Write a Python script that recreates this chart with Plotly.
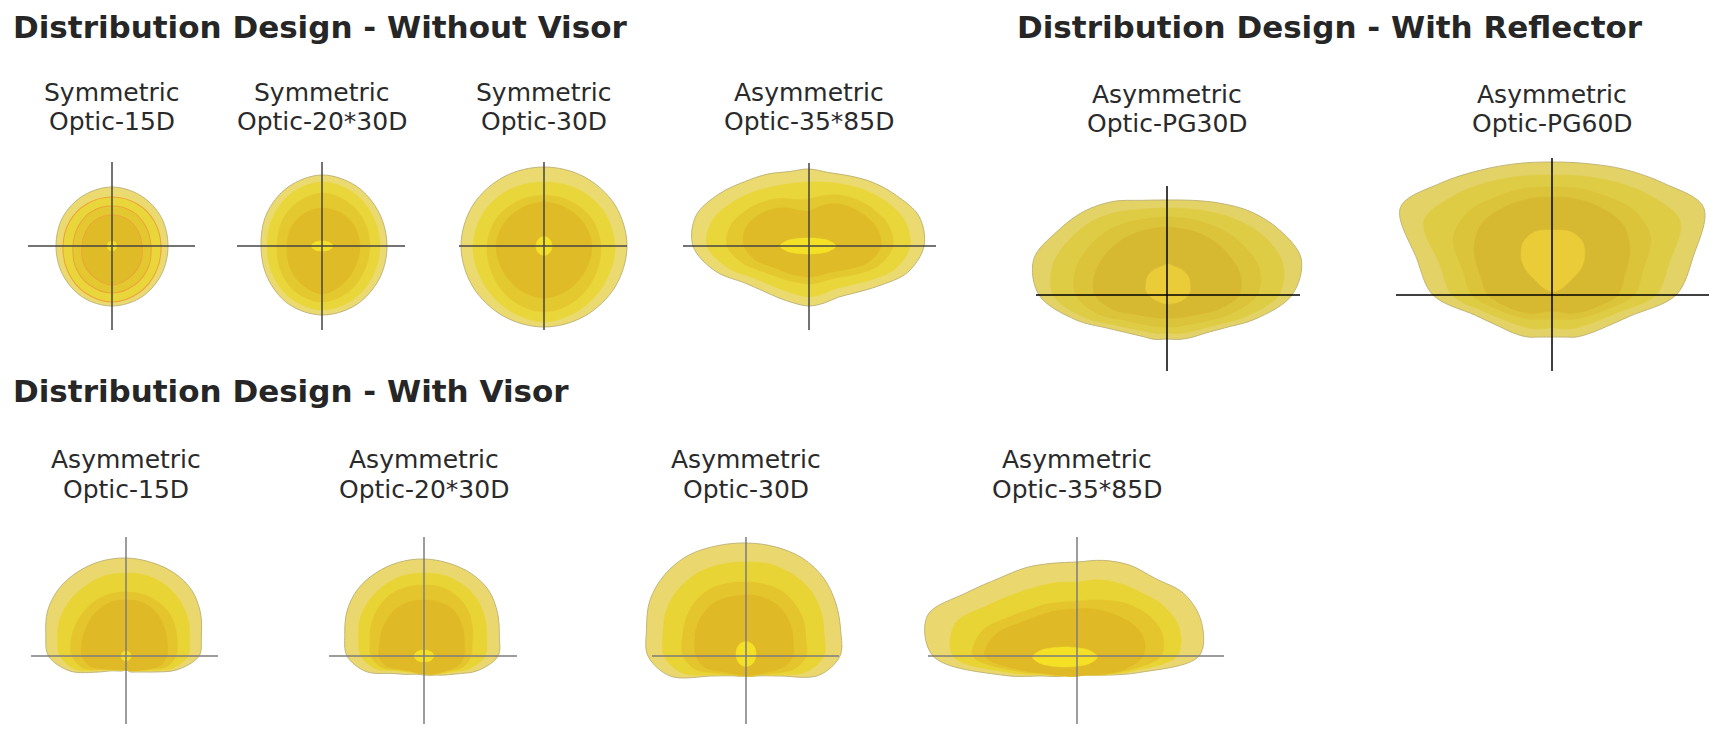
import numpy as np
import plotly.graph_objects as go

W, H = 1726, 732

# ------------------------------------------------------------------ data
SECTION_TITLES = ["Distribution Design - Without Visor",
                  "Distribution Design - With Reflector",
                  "Distribution Design - With Visor"]

PANEL_TYPES = ["Symmetric", "Symmetric", "Symmetric", "Asymmetric",
               "Asymmetric", "Asymmetric",
               "Asymmetric", "Asymmetric", "Asymmetric", "Asymmetric"]
PANEL_OPTICS = ["Optic-15D", "Optic-20*30D", "Optic-30D", "Optic-35*85D",
                "Optic-PG30D", "Optic-PG60D",
                "Optic-15D", "Optic-20*30D", "Optic-30D", "Optic-35*85D"]

# iso-intensity contours: radius from the beam axis (degrees-scale units) at
# evenly spaced angles counter-clockwise from the right; outer -> core
NV_15D = [
    [56, 57, 58, 59, 58, 57, 56, 57, 59, 60, 59, 57],
    [49, 49, 49, 49, 49, 49, 49, 51, 54, 56, 54, 51],
    [39, 39, 40, 40, 40, 39, 39, 42, 45, 47, 45, 42],
    [30, 30, 31, 31, 31, 30, 30, 33, 36, 39, 36, 33],
    [5, 5, 5, 5, 5, 5, 5, 5, 5, 5, 5, 5],
]
NV_2030D = [
    [65, 66, 69, 71, 68, 64, 61, 63, 67, 69, 68, 66],
    [58, 59, 62, 64, 61, 57, 55, 57, 61, 64, 62, 59],
    [48, 49, 51, 53, 50, 47, 45, 48, 53, 56, 53, 49],
    [38, 38, 38, 38, 37, 36, 35, 38, 43, 48, 43, 39],
    [11, 7.9, 5.6, 5, 5.6, 7.9, 11, 7.9, 5.6, 5, 5.6, 7.9],
]
NV_30D = [
    [83, 82, 80, 79, 80, 82, 83, 82, 81, 81, 81, 82],
    [71, 69, 66, 64, 66, 69, 71, 71, 73, 76, 73, 71],
    [57, 55, 52, 51, 52, 55, 57, 59, 63, 66, 63, 59],
    [48, 46, 44, 44, 44, 46, 48, 48, 50, 52, 50, 48],
    [8, 8.3, 9, 9.5, 9, 8.3, 8, 8.3, 9, 9.5, 9, 8.3],
]
NV_3585D = [
    [115, 114, 101, 90, 81, 76, 77, 77, 83, 91, 104, 117,
     116, 97, 74, 64, 60, 59, 60, 59, 59, 66, 80, 102],
    [101, 99, 89, 79, 71, 66, 64, 65, 69, 77, 88, 100,
     102, 84, 64, 55, 51, 50, 51, 50, 50, 56, 69, 89],
    [84, 82, 74, 66, 59, 52, 47, 48, 55, 63, 72, 81,
     82, 68, 52, 44, 40, 38, 38, 38, 39, 44, 56, 73],
    [72, 70, 63, 56, 49, 41, 35, 37, 44, 52, 60, 66,
     65, 55, 42, 36, 33, 31, 31, 31, 32, 36, 46, 62],
    [28, 21.1, 14.3, 10.9, 9.1, 8.3, 8, 8.3, 9.1, 10.9, 14.3, 21.1,
     28, 21.1, 14.3, 10.9, 9.1, 8.3, 8, 8.3, 9.1, 10.9, 14.3, 21.1],
]
RF_PG30D = [
    [125, 139, 130, 118, 106, 98, 95, 98, 108, 118, 127, 138,
     128, 95, 67, 54, 48, 46, 44, 46, 49, 54, 66, 92],
    [112, 120, 114, 104, 95, 89, 87, 89, 96, 105, 112, 118,
     114, 86, 60, 48, 42, 40, 38, 40, 43, 48, 59, 82],
    [90, 96, 92, 87, 82, 79, 78, 79, 83, 88, 92, 95,
     91, 72, 50, 40, 35, 33, 32, 33, 35, 40, 50, 68],
    [72, 76, 74, 72, 70, 68, 68, 68, 70, 72, 74, 75,
     72, 56, 38, 30, 26, 24, 23, 24, 26, 30, 38, 54],
    [22, 22, 21, 20, 19, 19, 20, 19, 19, 20, 21, 22,
     22, 23, 22, 21, 20, 20, 20, 20, 21, 22, 23, 23],
]
RF_PG60D = [
    [124, 146, 175, 158, 145, 136, 133, 136, 144, 158, 175, 140,
     119, 79, 62, 54, 48.5, 43.5, 42, 43.5, 48.5, 54, 63, 81],
    [104, 121, 148, 140, 130, 123, 120, 123, 130, 140, 148, 116,
     100, 68, 52, 44, 39, 35, 33, 35, 39, 44, 52, 68],
    [82, 94, 114, 118, 113, 110, 108, 110, 113, 118, 114, 92,
     80, 56, 42, 34, 28, 25, 24, 25, 28, 34, 42, 56],
    [66, 75, 90, 100, 100, 99, 98, 99, 100, 100, 90, 74,
     64, 46, 34, 26, 20, 17, 16, 17, 20, 26, 34, 46],
    [31, 33, 35, 35, 34, 32, 31, 32, 34, 35, 35, 33,
     31, 29, 27, 26, 27, 29, 31, 29, 27, 26, 27, 29],
]
WV_15D = [
    [73, 78, 86, 93, 96, 97, 98, 98, 97, 95, 90.5, 83,
     77.5, 58, 32, 21, 17.3, 15.5, 14, 16.5, 18.5, 22.6, 32, 53],
    [62, 66, 72, 77, 81, 83, 83, 83, 81, 79, 76, 71,
     66, 52, 28, 20, 16, 14.5, 14, 15, 17, 21, 29, 48],
    [50, 53, 57, 61, 63, 64, 64, 64, 63, 61, 59, 57,
     54, 45, 27, 19, 16, 14.5, 14, 15, 17, 20, 27, 42],
    [41, 43, 46, 50, 54, 56, 56, 56, 54, 51, 48, 46,
     44, 38, 26, 19, 16, 14.5, 14, 15, 17, 20, 26, 36],
    [5, 5, 5, 5, 5, 5, 5, 5, 5, 5, 5, 5],
]
WV_2030D = [
    [74, 78, 85, 92, 95, 96, 97, 97, 96, 94, 89, 82,
     77, 60, 35, 26, 21, 19, 19, 20, 22, 27, 36, 56],
    [61, 65, 71, 77, 81, 83, 83, 83, 81, 78, 74, 68,
     63, 50, 30, 23, 19, 18, 18, 19, 21, 25, 32, 48],
    [47, 50, 56, 63, 68, 71, 71, 71, 70, 66, 61, 56,
     53, 44, 28, 22, 19, 18, 18, 19, 21, 24, 30, 41],
    [40, 42, 46, 51, 55, 56, 56, 56, 55, 52, 49, 46,
     45, 39, 27, 21, 19, 18, 18, 19, 21, 23, 28, 36],
    [10, 8.3, 6.5, 6, 6.5, 8.3, 10, 8.3, 6.5, 6, 6.5, 8.3],
]
WV_30D = [
    [94, 98, 104, 110, 113, 113, 113, 114, 116, 115, 111, 103,
     98, 78, 40, 28, 23, 21, 20, 21, 23, 28, 40, 75],
    [78, 81, 87, 92, 94, 95, 94, 95, 96, 95, 92, 86,
     82, 66, 38, 27, 22, 20.5, 20, 21, 22, 27, 38, 62],
    [60, 62, 67, 71, 74, 74, 74, 75, 76, 74, 70, 66,
     63, 52, 34, 26, 22, 20.5, 20, 21, 22, 26, 34, 50],
    [47, 49, 53, 57, 60, 61, 61, 61, 62, 60, 57, 53,
     50, 43, 30, 24, 21, 20, 20, 20, 21, 24, 30, 40],
    [10, 10.6, 11.8, 12.5, 11.8, 10.6, 10, 10.6, 11.8, 12.5, 11.8, 10.6],
]
WV_3585D = [
    [122, 129, 124, 110, 105, 99, 94, 96, 102, 110, 127, 155,
     144, 75, 40, 29, 23, 21, 20, 20, 22, 27, 38, 64],
    [100, 106, 100, 90, 84, 79, 74, 76, 80, 88, 102, 126,
     124, 66, 38, 28, 23, 21, 20, 20, 22, 27, 37, 58],
    [84, 88, 82, 73, 64, 58, 55, 56, 60, 66, 78, 98,
     104, 60, 36, 28, 23, 21, 20, 20, 22, 27, 36, 54],
    [66, 69, 64, 57, 52, 49, 47, 48, 51, 56, 66, 84,
     92, 56, 35, 27, 23, 21, 20, 20, 22, 27, 35, 50],
    [32.5, 25.4, 17.6, 13.5, 11.4, 10.3, 10, 10.3, 11.4, 13.5, 17.6, 25.4,
     32.5, 25.4, 17.6, 13.5, 11.4, 10.3, 10, 10.3, 11.4, 13.5, 17.6, 25.4],
]
CONTOURS = [NV_15D, NV_2030D, NV_30D, NV_3585D, RF_PG30D, RF_PG60D,
            WV_15D, WV_2030D, WV_30D, WV_3585D]
# offset of the hot-spot (core) contour centre from the beam axis
CORE_OFFSET = [(0, 0), (0, 0), (0, 0), (-1, 0), (1, 11), (1, 34),
               (0, 0), (0, 0), (0, 2), (-12, -1)]

# ------------------------------------------------------------------ layout / style
# centre (px), crosshair arms (left, right, down, up), label line centres y (px)
LAYOUT = [
    dict(cx=112, cy=246, arms=(84, 83, 84, 84), ly=(93, 122), pal="warm", edge="#EFA53A", cross="#454545"),
    dict(cx=322, cy=246, arms=(85, 83, 84, 84), ly=(93, 122), pal="warm", edge=None, cross="#454545"),
    dict(cx=544, cy=246, arms=(85, 83, 84, 84), ly=(93, 122), pal="warm", edge=None, cross="#454545"),
    dict(cx=809, cy=246, arms=(126, 127, 84, 83), ly=(93, 122), pal="warm", edge=None, cross="#454545"),
    dict(cx=1167, cy=295, arms=(131, 133, 76, 109), ly=(95, 124), pal="refl", edge=None, cross="#000000"),
    dict(cx=1552, cy=295, arms=(156, 157, 76, 137), ly=(95, 124), pal="refl", edge=None, cross="#000000"),
    dict(cx=126, cy=656, arms=(95, 92, 68, 119), ly=(459, 489), pal="visor", edge=None, cross="#7c7c7c"),
    dict(cx=424, cy=656, arms=(95, 93, 68, 119), ly=(459, 489), pal="visor", edge=None, cross="#7c7c7c"),
    dict(cx=746, cy=656, arms=(94, 93, 68, 119), ly=(459, 489), pal="visor", edge=None, cross="#7c7c7c"),
    dict(cx=1077, cy=656, arms=(149, 147, 68, 119), ly=(459, 489), pal="visor", edge=None, cross="#7c7c7c"),
]
PALETTES = {
    "warm": ["#EADA70", "#E9D63A", "#E4C830", "#DFBB27", "#F4E126"],
    "refl": ["#E3D265", "#DFCC45", "#DBC33A", "#D7B931", "#EACB38"],
    "visor": ["#EAD86E", "#E9D435", "#E4C52D", "#E0B927", "#F4E126"],
}
TITLE_POS = [(11, 27), (1015, 27), (11, 391)]
TITLE_FONT = "DejaVu Sans"
LABEL_FONT = "DejaVu Sans"


def contour_xy(radii, offset=(0, 0)):
    r = np.asarray(radii, dtype=float)
    t = np.linspace(0, 2 * np.pi, len(r), endpoint=False)
    x = offset[0] + r * np.cos(t)
    y = offset[1] + r * np.sin(t)
    return np.append(x, x[0]), np.append(y, y[0])


fig = go.Figure()
axes_layout = {}
annotations = []

for i, (spec, conts) in enumerate(zip(LAYOUT, CONTOURS)):
    sfx = "" if i == 0 else str(i + 1)
    L, R, D, U = spec["arms"]
    cx, cy = spec["cx"], spec["cy"]
    ox, oy = contour_xy(conts[0])
    pad = 8
    x0 = max(min(ox.min(), -L) - pad, -cx)
    x1 = min(max(ox.max(), R) + pad, W - cx)
    y0 = max(min(oy.min(), -D) - pad, -(H - cy))
    y1 = min(max(oy.max(), U) + pad, cy)
    axes_layout["xaxis" + sfx] = dict(domain=[(cx + x0) / W, (cx + x1) / W], range=[x0, x1],
                                      visible=False, fixedrange=True, anchor="y" + sfx)
    axes_layout["yaxis" + sfx] = dict(domain=[1 - (cy - y0) / H, 1 - (cy - y1) / H], range=[y0, y1],
                                      visible=False, fixedrange=True, anchor="x" + sfx)
    pal = PALETTES[spec["pal"]]
    n = len(conts)
    for k, radii in enumerate(conts):
        off = CORE_OFFSET[i] if k == n - 1 else (0, 0)
        x, y = contour_xy(radii, off)
        if k == 0:
            lc, lw = "#C2B577", 1.0
        elif spec["edge"] and k < n - 1:
            lc, lw = spec["edge"], 1.1
        else:
            lc, lw = pal[k], 0.5
        fig.add_trace(go.Scatter(
            x=x, y=y, xaxis="x" + sfx, yaxis="y" + sfx, mode="lines", fill="toself",
            fillcolor=pal[k], line=dict(color=lc, width=lw, shape="spline", smoothing=1.0),
            hoverinfo="skip", showlegend=False))
    fig.add_trace(go.Scatter(x=[-L, R], y=[0, 0], xaxis="x" + sfx, yaxis="y" + sfx, mode="lines",
                             line=dict(color=spec["cross"], width=1.5), hoverinfo="skip", showlegend=False))
    fig.add_trace(go.Scatter(x=[0, 0], y=[-D, U], xaxis="x" + sfx, yaxis="y" + sfx, mode="lines",
                             line=dict(color=spec["cross"], width=1.5), hoverinfo="skip", showlegend=False))
    for text, ly in zip((PANEL_TYPES[i], PANEL_OPTICS[i]), spec["ly"]):
        annotations.append(dict(text=text, xref="paper", yref="paper", x=cx / W, y=1 - ly / H,
                                xanchor="center", yanchor="middle", showarrow=False,
                                font=dict(family=LABEL_FONT, size=25, color="#2a2a2a")))

for text, (tx, ty) in zip(SECTION_TITLES, TITLE_POS):
    annotations.append(dict(text="<b>" + text + "</b>", xref="paper", yref="paper", x=tx / W, y=1 - ty / H,
                            xanchor="left", yanchor="middle", showarrow=False,
                            font=dict(family=TITLE_FONT, size=31, color="#262626")))

fig.update_layout(width=W, height=H, autosize=False, margin=dict(l=0, r=0, t=0, b=0),
                  paper_bgcolor="white", plot_bgcolor="rgba(0,0,0,0)",
                  annotations=annotations, **axes_layout)

fig.write_html("out.html", config={"displayModeBar": False, "staticPlot": True},
               post_script="document.body.style.margin='0';document.body.style.overflow='hidden';")
